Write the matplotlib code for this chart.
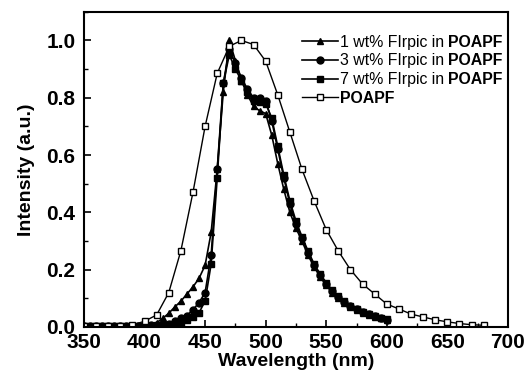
import matplotlib
matplotlib.use("Agg")
import matplotlib.pyplot as plt
from matplotlib.ticker import MultipleLocator

plt.rcParams['font.family'] = ['Liberation Sans', 'DejaVu Sans']

# doped films, 5 nm steps from 350 to 600 nm
wl_doped = list(range(350, 605, 5))
wt1 = [0.005, 0.005, 0.005, 0.005, 0.005, 0.005, 0.005, 0.005, 0.005, 0.005,
       0.006, 0.008, 0.015, 0.03, 0.048, 0.07, 0.09, 0.115, 0.14, 0.17,
       0.215, 0.33, 0.55, 0.82, 1.0, 0.93, 0.86, 0.81, 0.77, 0.755,
       0.745, 0.67, 0.57, 0.48, 0.40, 0.345, 0.30, 0.25, 0.21, 0.175,
       0.145, 0.12, 0.10, 0.085, 0.07, 0.06, 0.05, 0.042, 0.036, 0.03, 0.025]
wt3 = [0.005, 0.005, 0.005, 0.005, 0.005, 0.005, 0.005, 0.005, 0.005, 0.005,
       0.005, 0.006, 0.007, 0.009, 0.012, 0.02, 0.03, 0.04, 0.06, 0.085,
       0.12, 0.25, 0.55, 0.85, 0.97, 0.92, 0.87, 0.83, 0.80, 0.80,
       0.79, 0.72, 0.62, 0.52, 0.43, 0.36, 0.31, 0.26, 0.215, 0.18,
       0.15, 0.125, 0.105, 0.088, 0.073, 0.062, 0.052, 0.044, 0.037, 0.031, 0.026]
wt7 = [0.005, 0.005, 0.005, 0.005, 0.005, 0.005, 0.005, 0.005, 0.005, 0.005,
       0.005, 0.005, 0.006, 0.007, 0.008, 0.01, 0.015, 0.025, 0.035, 0.05,
       0.09, 0.22, 0.52, 0.85, 0.95, 0.90, 0.86, 0.82, 0.79, 0.785,
       0.78, 0.73, 0.63, 0.53, 0.44, 0.37, 0.315, 0.265, 0.22, 0.185,
       0.155, 0.128, 0.107, 0.09, 0.075, 0.063, 0.053, 0.045, 0.038, 0.032, 0.027]

# neat POAPF film, 10 nm steps
wl_poapf = list(range(350, 690, 10))
poapf = [0.005, 0.005, 0.005, 0.005, 0.007, 0.02, 0.042, 0.12, 0.266, 0.47,
         0.70, 0.885, 0.98, 1.0, 0.986, 0.928, 0.81, 0.68, 0.55, 0.44,
         0.34, 0.265, 0.20, 0.15, 0.115, 0.08, 0.063, 0.045, 0.035, 0.025,
         0.018, 0.012, 0.008, 0.006]

# legend: plain part, bold host name appended afterwards
labels = ['1 wt% FIrpic in', '3 wt% FIrpic in', '7 wt% FIrpic in', 'POAPF']
host = 'POAPF'

fig = plt.figure(figsize=(5.28, 3.82), dpi=100)
ax = fig.add_axes([0.159, 0.144, 0.803, 0.825])

ax.plot(wl_doped, wt1, 'k-^', ms=5, lw=1.2, label=labels[0])
ax.plot(wl_doped, wt3, 'k-o', ms=5, lw=1.2, label=labels[1])
ax.plot(wl_doped, wt7, 'k-s', ms=4.5, lw=1.2, label=labels[2])
ax.plot(wl_poapf, poapf, 'k-s', ms=5, lw=1.0, mfc='white', label=labels[3])

ax.set_xlim(350, 700)
ax.set_ylim(0, 1.1)
ax.xaxis.set_major_locator(MultipleLocator(50))
ax.xaxis.set_minor_locator(MultipleLocator(25))
ax.yaxis.set_major_locator(MultipleLocator(0.2))
ax.yaxis.set_minor_locator(MultipleLocator(0.1))
ax.yaxis.set_major_formatter(plt.FormatStrFormatter('%.1f'))
ax.tick_params(which='both', direction='in', top=False, right=False)
ax.tick_params(which='major', length=5, width=1.2, labelsize=15)
ax.tick_params(axis='x', which='major', pad=4)
ax.tick_params(axis='y', which='major', pad=6)
ax.tick_params(which='minor', length=3, width=1.0)
for lab in ax.get_xticklabels() + ax.get_yticklabels():
    lab.set_fontweight('bold')
for sp in ax.spines.values():
    sp.set_linewidth(1.5)

ax.set_xlabel('Wavelength (nm)', fontsize=14, fontweight='bold', labelpad=1)
ax.set_ylabel('Intensity (a.u.)', fontsize=14, fontweight='bold', labelpad=8)

leg = ax.legend(loc='upper left', bbox_to_anchor=(0.514, 0.928), frameon=False,
                fontsize=11.4, handlelength=2.3, handletextpad=0.1,
                labelspacing=0.24, borderaxespad=0, borderpad=0)
texts = leg.get_texts()
texts[3].set_fontweight('bold')

# place the bold host name right after each doped label
fig.canvas.draw()
renderer = fig.canvas.get_renderer()
for t in texts[:3]:
    bb = t.get_window_extent(renderer)
    ax.annotate(host, xy=(bb.x1, bb.y0), xycoords='figure pixels',
                xytext=(3.1, 0), textcoords='offset points', fontsize=11.4,
                fontweight='bold', ha='left', va='bottom')

fig.savefig('out.png', dpi=100)
